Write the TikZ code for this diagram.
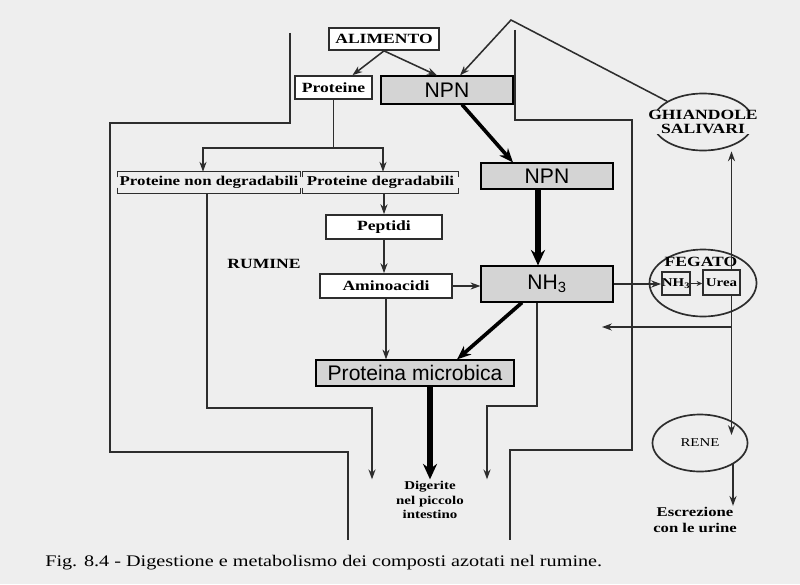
\documentclass[tikz,border=0pt]{standalone}
\usepackage{fontspec}
\usepackage{tikz}
\usetikzlibrary{shapes.geometric, arrows.meta, positioning, calc}
\newfontfamily\lblfont{Liberation Serif}[FakeStretch=1.25]
\newfontfamily\grayfont{Liberation Sans}
\definecolor{paper}{RGB}{238,238,238}
\definecolor{ink}{RGB}{45,45,45}
\definecolor{boxgray}{RGB}{212,212,212}

\begin{document}
\begin{tikzpicture}[x=0.025cm, y=-0.025cm,
  box/.style={draw=ink, fill=white, line width=1.2pt, inner sep=0pt, font=\lblfont\bfseries\fontsize{10}{12}\selectfont},
  bracket/.style={inner sep=0pt, font=\lblfont\bfseries\fontsize{9.6}{11}\selectfont},
  smallbox/.style={draw=ink, line width=1pt, inner sep=0pt, font=\lblfont\bfseries\fontsize{8.5}{10}\selectfont},
  graybox/.style={draw=black, fill=boxgray, line width=0.8pt, inner sep=0pt, font=\grayfont\fontsize{15}{18}\selectfont},
  organ/.style={ellipse, draw=ink, line width=1.2pt, inner sep=0pt},
  lbl/.style={inner sep=0pt, font=\lblfont\bfseries\fontsize{10}{10}\selectfont},
  note/.style={inner sep=1pt, align=center, font=\lblfont\bfseries\fontsize{8.5}{10.5}\selectfont},
  wall/.style={draw=ink, line width=2pt},
  line/.style={draw=ink, line width=1.1pt},
  conn/.style={line, -{Stealth[length=7pt, width=5pt]}},
  fat/.style={draw=black, line width=2.6pt, -{Stealth[length=10pt, width=8pt]}},
  fatter/.style={draw=black, line width=3.6pt, -{Stealth[length=11pt, width=10pt]}},
]
  \fill[paper] (0,0) rectangle (800,584);
  \useasboundingbox (0,0) rectangle (800,584);

  % Rumen walls
  \draw[wall] (290,33) -- (290,123) -- (110,123) -- (110,452) -- (348,452) -- (348,540);
  \draw[wall] (515,30) -- (515,120) -- (632,120) -- (632,450) -- (510,450) -- (510,540);

  % Feed and nitrogen sources
  \node[box, minimum width=2.75cm, minimum height=0.55cm] (alim) at (384,39) {ALIMENTO};
  \node[box, minimum width=1.925cm, minimum height=0.575cm] (prot) at (333.5,87.5) {Proteine};
  \node[graybox, minimum width=3.3cm, minimum height=0.7cm] (npn1) at (447,90) {NPN};
  \node[graybox, minimum width=3.3cm, minimum height=0.65cm] (npn2) at (547,176) {NPN};

  % Salivary glands
  \node[organ, minimum width=2.5cm, minimum height=1.425cm] (ghiand) at (703,122) {};
  \node[lbl, fill=paper, align=center] (ghiandtxt) at (ghiand) {GHIANDOLE\\SALIVARI};

  % Protein breakdown
  \node[bracket, minimum width=4.55cm, minimum height=0.525cm] (nondeg) at (209,182.5) {Proteine non degradabili};
  \node[bracket, minimum width=3.875cm, minimum height=0.525cm] (deg) at (380.5,182.5) {Proteine degradabili};
  \foreach \n in {nondeg, deg} {
    \draw[ink, line width=1.1pt] ([yshift=-4pt]\n.north west) -- (\n.north west) -- (\n.north east) -- ([yshift=-4pt]\n.north east);
    \draw[ink, line width=1.1pt] ([yshift=4pt]\n.south west) -- (\n.south west) -- (\n.south east) -- ([yshift=4pt]\n.south east);
  }
  \node[box, minimum width=2.9cm, minimum height=0.6cm] (pept) at (384,227) {Peptidi};
  \node[lbl] (rumine) at (264,264) {RUMINE};
  \node[box, minimum width=3.3cm, minimum height=0.6cm] (amino) at (386,286) {Aminoacidi};
  \node[graybox, minimum width=3.3cm, minimum height=0.9cm] (nh3) at (547,284) {NH\textsubscript{3}};
  \node[graybox, minimum width=4.95cm, minimum height=0.65cm] (micro) at (415,373) {Proteina microbica};

  % Liver
  \node[organ, minimum width=2.675cm, minimum height=1.675cm] (fegato) at (703,283) {};
  \node[lbl] (fegatotxt) at (701,262) {FEGATO};
  \node[smallbox, minimum width=0.7cm, minimum height=0.575cm] (nhliv) at (676,283.5) {NH\textsubscript{3}};
  \node[smallbox, minimum width=0.925cm, minimum height=0.625cm] (urea) at (721.5,282.5) {Urea};

  % Kidney
  \node[organ, minimum width=2.375cm, minimum height=1.425cm, font=\lblfont\fontsize{8.5}{10}\selectfont] (rene) at (700,443) {RENE};

  % Outputs
  \node[note] (intest) at (430,500) {Digerite\\nel piccolo\\intestino};
  \node[note, font=\lblfont\bfseries\fontsize{9.5}{11}\selectfont] (urine) at (695,520) {Escrezione\\con le urine};
  \node[anchor=west, inner sep=0pt, font=\lblfont\fontsize{11.5}{13}\selectfont] (caption) at (45,563)
    {Fig. 8.4 - Digestione e metabolismo dei composti azotati nel rumine.};

  % Connectors
  \draw[conn] (alim.south) -- ($(prot.north)+(19,0)$);
  \draw[conn] (alim.south) -- ($(npn1.north)+(-10,0)$);
  \coordinate (apex) at (511,20);
  \draw[conn] (ghiand.150) -- (apex) -- ($(npn1.north)+(13,0)$);

  \coordinate (split) at (333.5,148);
  \draw[line] (prot.south) -- (split);
  \draw[conn] (split) -| ($(nondeg.north)+(-6,0)$);
  \draw[conn] (split) -| ($(deg.north)+(2.5,0)$);
  \draw[conn] (pept.north |- deg.south) -- (pept.north);
  \draw[conn] (pept.south) -- (pept.south |- amino.north);
  \draw[conn] (amino.east) -- (amino.east -| nh3.west);
  \draw[conn] (amino.south) -- (amino.south |- micro.north);

  % to the small intestine
  \coordinate (ndturn) at (372,408);
  \draw[conn] ($(nondeg.south)+(-2,0)$) |- (ndturn) -- (ndturn |- intest.north);
  \coordinate (nhturn) at (487,406);
  \draw[conn] ($(nh3.south)+(-10,0)$) |- (nhturn) -- (nhturn |- intest.north);

  % Microbial pathway
  \draw[fat] ($(npn1.south)+(15,0)$) -- ($(npn2.north)+(-34,0)$);
  \draw[fatter] ($(npn2.south)+(-9,0)$) -- ($(nh3.north)+(-9,0)$);
  \draw[fat] ($(nh3.south)+(-25,0)$) -- ($(micro.north)+(42,0)$);
  \draw[fatter] (micro.south -| intest.north) -- (intest.north);

  % Liver, saliva and kidney
  \draw[conn] (nh3.east) -- (nh3.east -| nhliv.west);
  \draw[conn, -{Stealth[length=4pt, width=3.5pt]}] (nhliv.east) -- (urea.west |- nhliv.east);
  \coordinate (ureaup) at ($(urea.north)+(10,0)$);
  \draw[conn] (ureaup) -- (ureaup |- ghiand.south);
  \coordinate (ureadn) at ($(urea.south)+(10,0)$);
  \coordinate (fork) at (731.5,327);
  \coordinate (recyc) at (602,327);
  \draw[line] (ureadn) -- (fork);
  \draw[conn] (fork) -- (recyc);
  \coordinate (renein) at ($(rene)+(31.5,-8)$);
  \draw[conn] (fork) -- (renein);
  \coordinate (renedn) at ($(rene)+(33,21)$);
  \draw[conn] (renedn) -- (renedn |- urine.north);
\end{tikzpicture}
\end{document}
